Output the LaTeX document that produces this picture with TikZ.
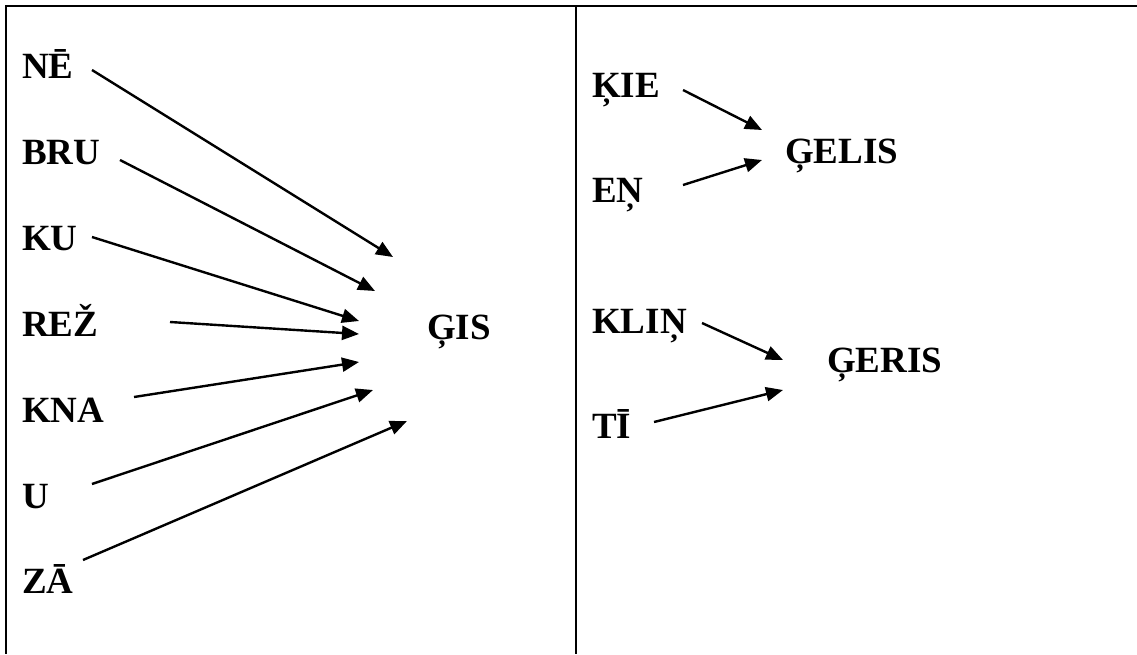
\documentclass[tikz,border=0pt]{standalone}
\usepackage{fontspec}
\setmainfont{Liberation Serif}
\usetikzlibrary{arrows.meta}
\begin{document}
\begin{tikzpicture}[x=1pt,y=-1pt,
  word/.style={anchor=base west,inner sep=0pt,font=\fontsize{37}{40}\selectfont\bfseries},
  rule/.style={line width=2.4pt},
  link/.style={line width=2.4pt,-{Triangle[length=17pt,width=14pt]}}]
\useasboundingbox (0,0) rectangle (1137,654);
% table rules
\draw[rule] (1137,6) -- (6,6) -- (6,654);
\draw[rule] (576,6) -- (576,654);
% left column words
\node[word] (ne)  at (22,78)  {NĒ};
\node[word] (bru) at (22,164) {BRU};
\node[word] (ku)  at (22,250) {KU};
\node[word] (rez) at (22,336) {REŽ};
\node[word] (kna) at (22,422) {KNA};
\node[word] (u)   at (22,508) {U};
\node[word] (za)  at (22,593) {ZĀ};
\node[word] (gis) at (427,339) {ĢIS};
% right column words
\node[word] (kie)   at (592,97)  {ĶIE};
\node[word] (en)    at (592,202) {EŅ};
\node[word] (gelis) at (785,163) {ĢELIS};
\node[word] (klin)  at (592,333) {KLIŅ};
\node[word] (ti)    at (592,438) {TĪ};
\node[word] (geris) at (827,372) {ĢERIS};
% arrow ends
\coordinate (s1) at (92,70);   \coordinate (t1) at (393,257);
\coordinate (s2) at (120,160); \coordinate (t2) at (375,291);
\coordinate (s3) at (92,237);  \coordinate (t3) at (359,321);
\coordinate (s4) at (170,322); \coordinate (t4) at (359,334);
\coordinate (s5) at (134,397); \coordinate (t5) at (359,362);
\coordinate (s6) at (92,484);  \coordinate (t6) at (373,390);
\coordinate (s7) at (83,560);  \coordinate (t7) at (407,421);
\coordinate (s8) at (683,90);  \coordinate (t8) at (762,130);
\coordinate (s9) at (683,185); \coordinate (t9) at (762,160);
\coordinate (s10) at (702,323); \coordinate (t10) at (783,360);
\coordinate (s11) at (654,422); \coordinate (t11) at (783,390);
\foreach \i in {1,...,11} \draw[link] (s\i) -- (t\i);
\end{tikzpicture}
\end{document}
